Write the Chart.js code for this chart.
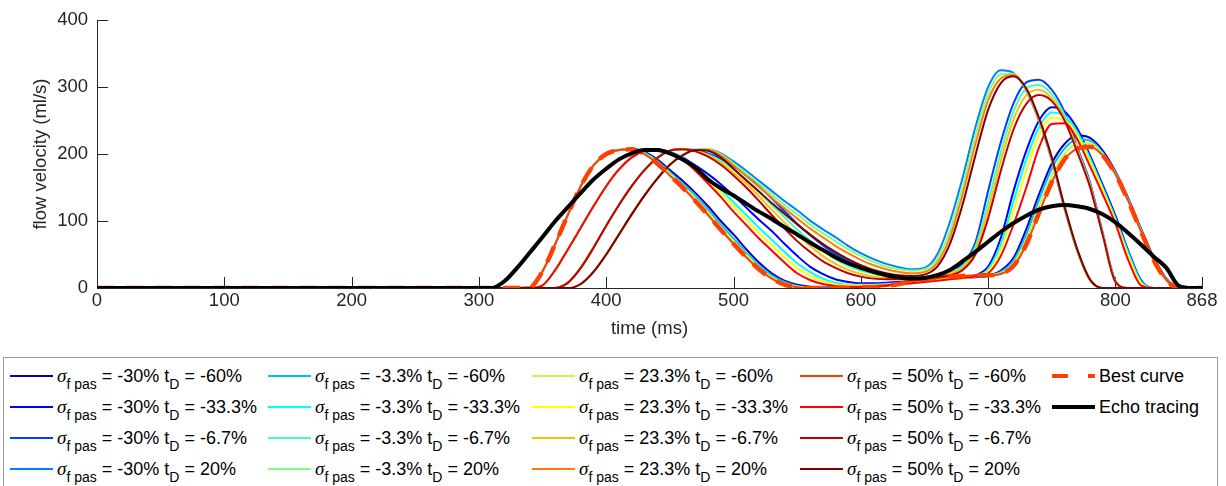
<!DOCTYPE html>
<html>
<head>
<meta charset="utf-8">
<script src="https://cdn.jsdelivr.net/npm/chart.js@4/dist/chart.umd.min.js"></script>
<style>
  html, body { margin: 0; padding: 0; background: #fff; overflow: hidden; width: 1226px; height: 486px; }
  #wrap { position: absolute; left: 0; top: 0; width: 1226px; height: 345px; }
  #legend { position: absolute; left: 3px; top: 357px; width: 1215px; height: 140px; border: 1px solid #9a9a9a;
            box-sizing: border-box; background: #fff; font-family: "Liberation Sans", Arial, sans-serif; font-size: 18px; color: #000; }
  .item { position: absolute; height: 20px; line-height: 20px; white-space: nowrap; }
  .sw { position: absolute; left: 0; top: 9px; width: 43px; height: 2px; }
  .txt { position: absolute; left: 47px; top: 0; }
  .sig { font-family: "Liberation Serif", serif; font-style: italic; font-size: 19px; }
  .sub { font-size: 14px; position: relative; top: 7px; }
</style>
</head>
<body>
<div id="wrap"><canvas id="chart"></canvas></div>
<div id="legend"></div>
<script>
// Sample times (ms)
const timeMs = [0,
  300,310,320,330,340,350,360,370,380,390,
  400,410,420,430,440,450,460,470,480,490,
  500,510,520,530,540,550,560,570,580,590,
  600,610,620,630,640,650,660,670,680,690,
  700,710,720,730,740,750,760,770,780,790,
  800,810,820,830,840,850,860,
  868];

// Simulated flow velocity (ml/s), one array per (sigma_f_pas, t_D) pair
const sigM30_tdM60 = [0,
  0,0,0,0,1,25,66,110,152,183,
  200,206,207,203,192,176,160,142,122,100,
  80,58,38,22,11,5,2,1,1,1,
  2,3,5,7,9,11,13,14,15,16,
  18,26,45,88,140,186,215,228,224,205,
  174,134,89,46,14,0,0,
  0];
const sigM30_tdM33 = [0,
  0,0,0,0,0,4,27,58,90,122,
  152,177,195,205,207,203,195,183,170,155,
  138,120,102,85,66,48,32,21,13,9,
  7,7,8,9,10,12,13,14,16,19,
  32,75,145,205,250,270,264,238,198,154,
  108,56,12,0,0,0,0,
  0];
const sigM30_tdM7 = [0,
  0,0,0,0,0,0,0,8,30,60,
  93,124,152,176,194,205,207,206,201,193,
  182,168,152,134,115,96,79,64,51,40,
  32,25,20,16,15,16,19,26,36,68,
  145,218,276,307,311,296,263,210,158,83,
  11,0,0,0,0,0,0,
  0];
const sigM30_tdP20 = [0,
  0,0,0,0,0,0,0,0,6,24,
  50,80,110,138,163,184,198,206,207,201,
  189,175,160,145,130,116,101,88,76,63,
  52,43,36,31,28,30,50,99,165,240,
  300,325,321,294,249,190,118,55,12,0,
  0,0,0,0,0,0,0,
  0];
const sigM3_tdM60 = [0,
  0,0,0,0,1,25,66,110,152,183,
  200,206,207,202,190,173,156,137,117,95,
  74,53,34,19,9,3,1,1,1,1,
  1,2,4,6,9,11,13,15,16,17,
  18,24,41,80,132,178,208,222,220,202,
  172,132,87,44,13,0,0,
  0];
const sigM3_tdM33 = [0,
  0,0,0,0,0,4,27,58,90,122,
  152,177,195,205,207,203,194,180,164,147,
  128,109,90,72,54,37,24,14,8,5,
  5,5,6,7,9,11,12,14,16,18,
  28,65,130,192,240,262,257,233,194,150,
  104,53,10,0,0,0,0,
  0];
const sigM3_tdM7 = [0,
  0,0,0,0,0,0,0,8,30,60,
  93,124,152,176,194,205,207,205,199,190,
  177,161,143,124,106,87,71,56,43,33,
  26,21,18,16,15,16,18,24,33,62,
  128,203,264,298,303,289,258,207,155,81,
  10,0,0,0,0,0,0,
  0];
const sigM3_tdP20 = [0,
  0,0,0,0,0,0,0,0,6,24,
  50,80,110,138,163,184,198,206,207,200,
  186,171,156,140,124,110,95,82,70,58,
  48,39,32,28,26,28,44,86,152,228,
  290,319,320,295,251,192,120,56,12,0,
  0,0,0,0,0,0,0,
  0];
const sigP23_tdM60 = [0,
  0,0,0,0,1,25,66,110,152,183,
  200,206,207,201,188,171,153,134,113,91,
  70,50,31,16,7,2,1,0,0,1,
  1,2,3,6,9,12,14,16,17,18,
  19,22,37,72,122,168,200,215,216,200,
  171,131,86,43,12,0,0,
  0];
const sigP23_tdM33 = [0,
  0,0,0,0,0,4,27,58,90,122,
  152,177,195,205,207,202,193,178,160,142,
  122,102,82,64,46,30,18,10,5,4,
  4,4,5,6,8,10,12,13,15,17,
  25,57,115,175,228,254,251,228,189,146,
  100,48,7,0,0,0,0,
  0];
const sigP23_tdM7 = [0,
  0,0,0,0,0,0,0,8,30,60,
  93,124,152,176,194,205,207,205,198,187,
  172,156,137,117,98,79,63,48,36,27,
  21,17,15,14,14,15,17,22,30,56,
  116,190,252,288,296,283,253,205,153,80,
  10,0,0,0,0,0,0,
  0];
const sigP23_tdP20 = [0,
  0,0,0,0,0,0,0,0,6,24,
  50,80,110,138,163,184,198,206,206,198,
  183,167,151,135,119,104,89,76,63,52,
  42,34,28,24,22,24,38,76,140,215,
  280,313,318,296,252,193,121,57,12,0,
  0,0,0,0,0,0,0,
  0];
const sigP50_tdM60 = [0,
  0,0,0,0,1,25,66,110,152,183,
  200,206,207,200,186,168,150,130,109,87,
  66,46,28,14,5,1,0,0,0,0,
  1,1,3,6,10,13,15,17,18,19,
  19,21,33,65,112,158,192,208,211,198,
  170,130,85,42,12,0,0,
  0];
const sigP50_tdM33 = [0,
  0,0,0,0,0,4,27,58,90,122,
  152,177,195,205,207,202,192,175,156,136,
  114,94,74,56,38,22,12,6,3,2,
  2,3,4,5,7,9,11,13,15,17,
  22,48,95,150,210,245,246,222,182,140,
  96,42,4,0,0,0,0,
  0];
const sigP50_tdM7 = [0,
  0,0,0,0,0,0,0,8,30,60,
  93,124,152,176,194,205,207,204,196,184,
  168,150,130,109,89,70,54,40,30,22,
  17,14,13,13,13,14,16,19,27,50,
  104,175,237,275,288,279,250,203,151,79,
  9,0,0,0,0,0,0,
  0];
const sigP50_tdP20 = [0,
  0,0,0,0,0,0,0,0,6,24,
  50,80,110,138,163,184,198,206,205,195,
  178,161,144,127,111,95,80,66,54,43,
  34,27,22,19,18,20,32,66,125,198,
  266,306,316,298,254,195,122,58,13,0,
  0,0,0,0,0,0,0,
  0];

// Best-fitting simulation (sigma_f_pas = 50%, t_D = -60%)
const bestCurve = sigP50_tdM60;

// Measured Doppler echo tracing
const echoTracing = [0,
  0,0,10,30,53,76,100,121,142,162,
  178,192,201,206,206,201,192,180,162,149,
  138,126,114,103,91,80,68,57,46,37,
  30,24,19,16,14,15,19,27,40,54,
  69,84,97,108,117,122,124,122,118,110,
  98,82,65,47,30,3,0,
  0];

const sigmaLabels = ['-30%', '-3.3%', '23.3%', '50%'];
const tdLabels = ['-60%', '-33.3%', '-6.7%', '20%'];
const xTickValues = [0, 100, 200, 300, 400, 500, 600, 700, 800, 868];

const simulated = [
  [sigM30_tdM60, sigM30_tdM33, sigM30_tdM7, sigM30_tdP20],
  [sigM3_tdM60,  sigM3_tdM33,  sigM3_tdM7,  sigM3_tdP20],
  [sigP23_tdM60, sigP23_tdM33, sigP23_tdM7, sigP23_tdP20],
  [sigP50_tdM60, sigP50_tdM33, sigP50_tdM7, sigP50_tdP20]
];

// jet colormap, 16 steps
const jetColors = [
  '#0000bf', '#0000ff', '#0040ff', '#0080ff',
  '#00bfff', '#00ffff', '#40ffbf', '#80ff80',
  '#bfff40', '#ffff00', '#ffbf00', '#ff8000',
  '#ff4000', '#ff0000', '#bf0000', '#800000'
];
const bestColor = '#ff4000';
const FONT = '"Liberation Sans", Arial, Helvetica, sans-serif';
const AXIS = '#262626';
const AXIS_FONT_SIZE = 18.5;

const toPoints = arr => arr.map((v, i) => ({ x: timeMs[i], y: v }));

const datasets = [];
simulated.forEach((row, s) => {
  row.forEach((series, d) => {
    const k = s * 4 + d;
    datasets.push({
      label: 'sigma ' + sigmaLabels[s] + ' tD ' + tdLabels[d],
      data: toPoints(series),
      borderColor: jetColors[k],
      borderWidth: 2,
      order: 100 - k
    });
  });
});
datasets.push({
  label: 'Best curve', data: toPoints(bestCurve), borderColor: bestColor,
  borderWidth: 4.5, borderDash: [17, 12], borderCapStyle: 'butt', order: 1
});
datasets.push({
  label: 'Echo tracing', data: toPoints(echoTracing), borderColor: '#000',
  borderWidth: 4, order: 0
});

// MATLAB-style ticks pointing into the plot area
const inwardTicks = {
  id: 'inwardTicks',
  beforeDatasetsDraw(chart) {
    const { ctx, chartArea, scales: { x, y } } = chart;
    ctx.save();
    ctx.strokeStyle = AXIS;
    ctx.lineWidth = 1;
    ctx.beginPath();
    x.ticks.forEach(t => {
      const px = Math.round(x.getPixelForValue(t.value)) + 0.5;
      ctx.moveTo(px, chartArea.bottom);
      ctx.lineTo(px, chartArea.bottom - 11);
    });
    y.ticks.forEach(t => {
      const py = Math.round(y.getPixelForValue(t.value)) + 0.5;
      ctx.moveTo(chartArea.left, py);
      ctx.lineTo(chartArea.left + 11, py);
    });
    ctx.stroke();
    ctx.restore();
  }
};

new Chart(document.getElementById('chart'), {
  type: 'line',
  data: { datasets },
  plugins: [inwardTicks],
  options: {
    responsive: true,
    maintainAspectRatio: false,
    animation: false,
    devicePixelRatio: 1,
    layout: { padding: { left: 0, right: 24, top: 13, bottom: 0 } },
    plugins: { legend: { display: false }, tooltip: { enabled: false } },
    elements: {
      point: { radius: 0 },
      line: { cubicInterpolationMode: 'monotone', fill: false, borderJoinStyle: 'round' }
    },
    scales: {
      x: {
        type: 'linear', min: 0, max: 868,
        grid: { display: false, drawTicks: false },
        border: { display: true, color: AXIS, width: 1 },
        afterBuildTicks: s => { s.ticks = xTickValues.map(v => ({ value: v })); },
        ticks: { autoSkip: false, maxRotation: 0, padding: 2, color: AXIS,
                 font: { family: FONT, size: AXIS_FONT_SIZE }, callback: v => String(v) },
        title: { display: true, text: 'time (ms)', color: AXIS,
                 font: { family: FONT, size: AXIS_FONT_SIZE }, padding: { top: 0, bottom: 5 } },
        afterFit: s => { s.height = 57; }
      },
      y: {
        min: 0, max: 400,
        grid: { display: false, drawTicks: false },
        border: { display: true, color: AXIS, width: 1 },
        ticks: { stepSize: 100, padding: 9, color: AXIS, font: { family: FONT, size: AXIS_FONT_SIZE } },
        title: { display: true, text: 'flow velocity (ml/s)', color: AXIS,
                 font: { family: FONT, size: AXIS_FONT_SIZE }, padding: { top: 30, bottom: 0 } },
        afterFit: s => { s.width = 97; }
      }
    }
  }
});

// Legend with subscripted labels
const legend = document.getElementById('legend');
const colX = [10, 268, 532, 800, 1052];
const rowY = [376, 407, 438, 469];
const boxLeft = 4, boxTop = 358;

function addItem(col, row, swatchCss, html) {
  const it = document.createElement('div');
  it.className = 'item';
  it.style.left = (colX[col] - boxLeft) + 'px';
  it.style.top = (rowY[row] - 10 - boxTop) + 'px';
  const sw = document.createElement('div');
  sw.className = 'sw';
  Object.assign(sw.style, swatchCss);
  const tx = document.createElement('span');
  tx.className = 'txt';
  tx.innerHTML = html;
  it.appendChild(sw);
  it.appendChild(tx);
  legend.appendChild(it);
}

sigmaLabels.forEach((sg, s) => {
  tdLabels.forEach((td, d) => {
    addItem(s, d, { background: jetColors[s * 4 + d] },
      '<span class="sig">\u03C3</span><span class="sub">f pas</span> = ' + sg +
      ' t<span class="sub">D</span> = ' + td);
  });
});
addItem(4, 0, { height: '4px', top: '8px',
  background: 'linear-gradient(to right, ' + bestColor + ' 0 16px, transparent 16px 36px, ' + bestColor + ' 36px 45px)' },
  'Best curve');
addItem(4, 1, { height: '4px', top: '8px', background: '#000' }, 'Echo tracing');
</script>
</body>
</html>
